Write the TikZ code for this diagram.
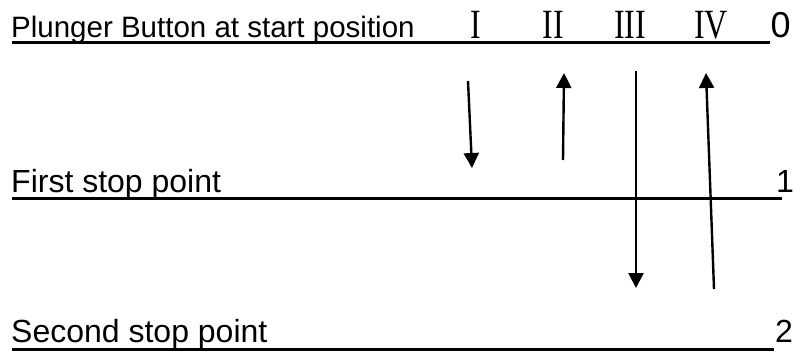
\documentclass[tikz,border=0pt]{standalone}
\usepackage{fontspec}
\setmainfont{Liberation Sans}
\newfontfamily\numfont{Liberation Serif}
\usetikzlibrary{arrows.meta}

\begin{document}
\begin{tikzpicture}[x=1pt,y=-1pt,
	>={Triangle[length=15pt,width=15pt]},
	stopline/.style={line width=3pt},
	move/.style={->,line width=2.4pt},
	lbl/.style={anchor=base west,inner sep=0pt,font=\fontsize{32}{32}\selectfont},
	toplbl/.style={anchor=base west,inner sep=0pt,font=\fontsize{29.5}{29.5}\selectfont},
	roman/.style={anchor=base,inner sep=0pt,yscale=1.3,font=\numfont\fontsize{32}{32}\selectfont}]
\useasboundingbox (0,0) rectangle (794,351);

\def\yz{42}
\def\yo{198}
\def\yt{349}

\coordinate (L0) at (12,\yz);
\coordinate (R0) at (770,\yz);
\coordinate (L1) at (12,\yo);
\coordinate (R1) at (782,\yo);
\coordinate (L2) at (12,\yt);
\coordinate (R2) at (774,\yt);

\draw[stopline] (L0)--(R0);
\draw[stopline] (L1)--(R1);
\draw[stopline] (L2)--(R2);

\node (start) at (11,37) [toplbl] {Plunger Button at start position};
\node (first) at (11,192) [lbl] {First stop point};
\node (second) at (11,342) [lbl] {Second stop point};

\node (p0) at (770.5,37) [anchor=base west,inner sep=0pt,font=\fontsize{36}{36}\selectfont] {0};
\node (p1) at (776,192) [lbl] {1};
\node (p2) at (775,342) [lbl] {2};

\foreach \n/\x in {I/476,II/553,III/630,IV/711} {
	\node (step\n) at (\x,38) [roman] {\n};
}

% strokes of the plunger
\coordinate (Ia) at (468,81);
\coordinate (Ib) at (472,168);
\coordinate (IIa) at (563,160);
\coordinate (IIb) at (564,73);
\coordinate (IIIa) at (636,71);
\coordinate (IIIb) at (636,288);
\coordinate (IVa) at (714,289);
\coordinate (IVb) at (706,73);

\draw[move] (Ia)--(Ib);
\draw[move] (IIa)--(IIb);
\draw[move] (IIIa)--(IIIb);
\draw[move] (IVa)--(IVb);

\end{tikzpicture}
\end{document}
